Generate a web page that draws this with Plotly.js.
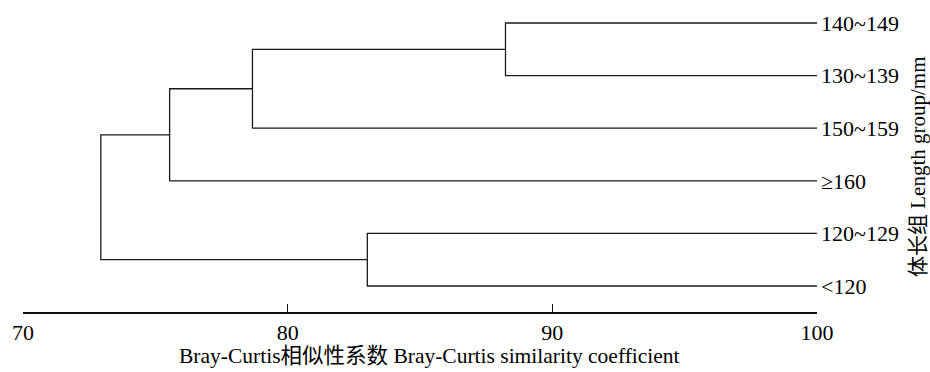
<!DOCTYPE html>
<html>
<head>
<meta charset="utf-8">
<script src="https://cdn.plot.ly/plotly-3.0.1.min.js"></script>
<style>html,body{margin:0;padding:0;background:#fff;}#chart{width:930px;height:372px;}</style>
</head>
<body>
<div id="chart"></div>
<script>
// Leaves, top to bottom
const leafLabels = ['140~149', '130~139', '150~159', '≥160', '120~129', '<120'];
// Linkage: [childA, childB, similarity]; indices >= 6 refer to earlier merges
const mergeA = [0, 6, 7, 4, 8];
const mergeB = [1, 2, 3, 5, 9];
const mergeHeight = [88.23, 78.67, 75.54, 83.01, 72.94];
const leafSimilarity = 100;
const xTicks = [70, 80, 90, 100];

const n = leafLabels.length;
const nodeX = [], nodeY = [];
const leafPos = leafLabels.map((_, i) => n - i);
for (let i = 0; i < n; i++) { nodeX.push(leafSimilarity); nodeY.push(leafPos[i]); }
const xs = [], ys = [];
for (let k = 0; k < mergeHeight.length; k++) {
  const a = mergeA[k], b = mergeB[k], h = mergeHeight[k];
  xs.push(nodeX[a], h, h, nodeX[b], null);
  ys.push(nodeY[a], nodeY[a], nodeY[b], nodeY[b], null);
  nodeX.push(h);
  nodeY.push((nodeY[a] + nodeY[b]) / 2);
}

const font = 'Liberation Serif, "Times New Roman", "Noto Sans CJK SC", serif';
const data = [{
  type: 'scatter', mode: 'lines', x: xs, y: ys,
  line: {color: '#1a1a1a', width: 1.3}, hoverinfo: 'skip', showlegend: false,
  cliponaxis: false
}];
const layout = {
  width: 930, height: 372,
  margin: {l: 23, r: 113, t: 5, b: 60},
  paper_bgcolor: '#fff', plot_bgcolor: '#fff',
  font: {family: font, size: 22, color: '#000'},
  showlegend: false,
  xaxis: {
    range: [70, 100], tickvals: xTicks, ticktext: xTicks.map(String),
    showline: true, linecolor: '#111', linewidth: 1.5,
    ticks: 'inside', ticklen: 8, tickwidth: 1.3, tickcolor: '#111',
    showgrid: false, zeroline: false, fixedrange: true,
    tickfont: {family: font, size: 22, color: '#000'}
  },
  yaxis: {
    range: [0.506, 6.342], side: 'right',
    tickvals: leafPos, ticktext: leafLabels,
    showline: false, ticks: '', showgrid: false, zeroline: false,
    ticklabelstandoff: 3,
    tickfont: {family: font, size: 22, color: '#000'}, fixedrange: true
  },
  annotations: [
    {text: 'Bray-Curtis相似性系数 Bray-Curtis similarity coefficient', xref: 'paper', yref: 'paper',
     x: (430 - 23) / (930 - 23 - 113), y: -(356 - 312) / 307, xanchor: 'center', yanchor: 'middle',
     showarrow: false, font: {family: font, size: 21.5, color: '#000'}},
    {text: '体长组 Length group/mm', xref: 'paper', yref: 'paper',
     x: (918 - 23) / (930 - 23 - 113), y: (312 - 167) / 307, xanchor: 'center', yanchor: 'middle',
     textangle: -90, showarrow: false, font: {family: font, size: 21, color: '#000'}}
  ]
};
Plotly.newPlot('chart', data, layout, {displayModeBar: false, staticPlot: true});
</script>
</body>
</html>
